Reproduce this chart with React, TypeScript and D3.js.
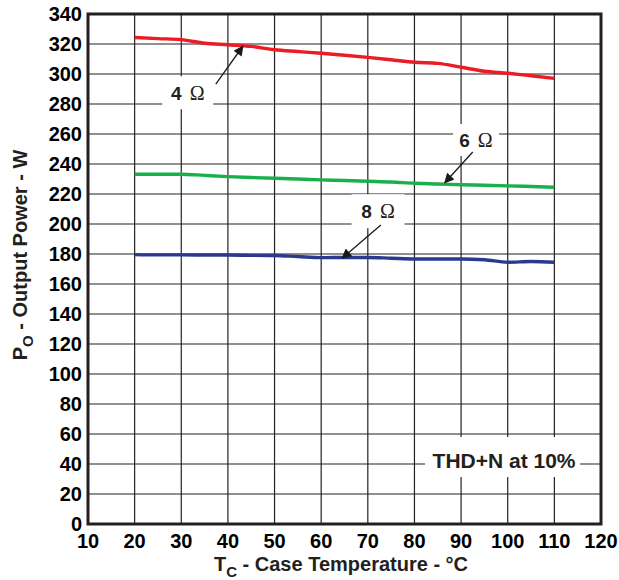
import React from "react";
import * as d3 from "d3";

const temps = [20, 25, 30, 35, 40, 45, 50, 55, 60, 65, 70, 75, 80, 85, 90, 95, 100, 105, 110];
const p4ohm = [324.4, 323.6, 322.9, 320.5, 319.5, 318.4, 316.2, 315, 313.8, 312.5, 311.1, 309.5, 307.8, 307.1, 304.5, 301.8, 300.5, 298.8, 297.1];
const p6ohm = [233.2, 233.2, 233.2, 232.4, 231.6, 231, 230.5, 230, 229.4, 229, 228.5, 228, 227.2, 226.7, 226.2, 225.8, 225.4, 225, 224.5];
const p8ohm = [179.6, 179.4, 179.4, 179.3, 179.3, 179.1, 179, 178.3, 177.6, 177.7, 177.7, 177.2, 176.7, 176.7, 176.7, 176.2, 174.5, 175, 174.5];
const xTicks = [10, 20, 30, 40, 50, 60, 70, 80, 90, 100, 110, 120];
const yTicks = d3.range(0, 341, 20);

const seriesNames = ["4 Ω", "6 Ω", "8 Ω"];
// label center (x,y), arrow tail (x,y), arrow head (x,y) in data units
const labelPos = [[31.4, 287.5], [93.2, 256], [72.2, 208.5]];
const arrowFrom = [[37.4, 293.3], [92.5, 248], [72.8, 199.3]];
const arrowTo = [[43.2, 318.5], [86.5, 227.5], [64.5, 177.2]];
const noteText = "THD+N at 10%";
const notePos = [99, 40];

const W = 619, H = 580;
const L = 88, R = 601, T = 14, B = 524;
const sans = "'Liberation Sans', Arial, Helvetica, sans-serif";
const serif = "'Liberation Serif', 'Times New Roman', serif";

export default function App() {
  const x = d3.scaleLinear().domain([10, 120]).range([L, R]);
  const y = d3.scaleLinear().domain([0, 340]).range([B, T]);
  const line = d3.line<number>().x((_, i) => x(temps[i])).y((d) => y(d)).curve(d3.curveMonotoneX);
  const series = [
    { v: p4ohm, c: "#ec1c24" },
    { v: p6ohm, c: "#19b04b" },
    { v: p8ohm, c: "#2b3a91" },
  ];
  const boxW = [51, 46, 53];
  const boxH = [33, 32, 34];
  return (
    <div style={{ position: "fixed", left: 0, top: 0, width: W, height: H, overflow: "hidden" }}>
      <svg width={W} height={H} style={{ display: "block", background: "#fff" }}>
        <defs>
          <marker id="ah" viewBox="0 0 10 10" refX="9" refY="5" markerWidth="13" markerHeight="10" markerUnits="userSpaceOnUse" orient="auto">
            <path d="M0,0 L10,5 L0,10 z" fill="#1a1a1a" />
          </marker>
        </defs>
        {/* grid */}
        {xTicks.slice(1, -1).map((t) => (
          <line key={"gx" + t} x1={x(t)} x2={x(t)} y1={T} y2={B} stroke="#222" strokeWidth={1.2} />
        ))}
        {yTicks.slice(1, -1).map((t) => (
          <line key={"gy" + t} x1={L} x2={R} y1={y(t)} y2={y(t)} stroke="#222" strokeWidth={1.2} />
        ))}
        {/* label boxes */}
        {seriesNames.map((n, i) => (
          <rect key={"bx" + i} x={x(labelPos[i][0]) - boxW[i] / 2} y={y(labelPos[i][1]) - boxH[i] / 2} width={boxW[i]} height={boxH[i]} fill="#fff" />
        ))}
        <rect x={x(notePos[0]) - 78} y={y(notePos[1]) - 27} width={155} height={40} fill="#fff" />
        {/* series */}
        {series.map((s, i) => (
          <path key={"s" + i} d={line(s.v) || ""} fill="none" stroke={s.c} strokeWidth={3.4} />
        ))}
        {/* arrows */}
        {seriesNames.map((n, i) => (
          <line key={"ar" + i} x1={x(arrowFrom[i][0])} y1={y(arrowFrom[i][1])} x2={x(arrowTo[i][0])} y2={y(arrowTo[i][1])} stroke="#1a1a1a" strokeWidth={1.3} markerEnd="url(#ah)" />
        ))}
        {/* labels */}
        {seriesNames.map((n, i) => (
          <text key={"lb" + i} x={x(labelPos[i][0])} y={y(labelPos[i][1]) + 7} textAnchor="middle" fontFamily={sans} fontSize={19} fill="#231f20">
            <tspan fontWeight="bold">{n.split(" ")[0]}</tspan>
            <tspan fontFamily={serif} fontSize={20} dx={8}>{n.split(" ")[1]}</tspan>
          </text>
        ))}
        <text x={x(notePos[0]) + 1} y={y(notePos[1]) + 4} textAnchor="middle" fontFamily={sans} fontWeight="bold" fontSize={21} fill="#231f20">{noteText}</text>
        {/* frame */}
        <rect x={L} y={T} width={R - L} height={B - T} fill="none" stroke="#231f20" strokeWidth={3} />
        {/* y ticks */}
        {yTicks.map((t) => (
          <text key={"yt" + t} x={L - 6} y={y(t) + 7} textAnchor="end" fontFamily={sans} fontWeight="bold" fontSize={20} fill="#000">{t}</text>
        ))}
        {xTicks.map((t) => (
          <text key={"xt" + t} x={x(t)} y={B + 24} textAnchor="middle" fontFamily={sans} fontWeight="bold" fontSize={20} fill="#000">{t}</text>
        ))}
        {/* axis titles */}
        <text x={341} y={571} textAnchor="middle" fontFamily={sans} fontWeight="bold" fontSize={20} fill="#231f20">
          <tspan>T</tspan>
          <tspan fontSize={15} dy={5.5}>C</tspan>
          <tspan dy={-5.5}> - Case Temperature - °C</tspan>
        </text>
        <text transform={`translate(27, 255) rotate(-90)`} textAnchor="middle" fontFamily={sans} fontWeight="bold" fontSize={20} fill="#231f20">
          <tspan>P</tspan>
          <tspan fontSize={15} dy={6}>O</tspan>
          <tspan dy={-6}> - Output Power - W</tspan>
        </text>
      </svg>
    </div>
  );
}
